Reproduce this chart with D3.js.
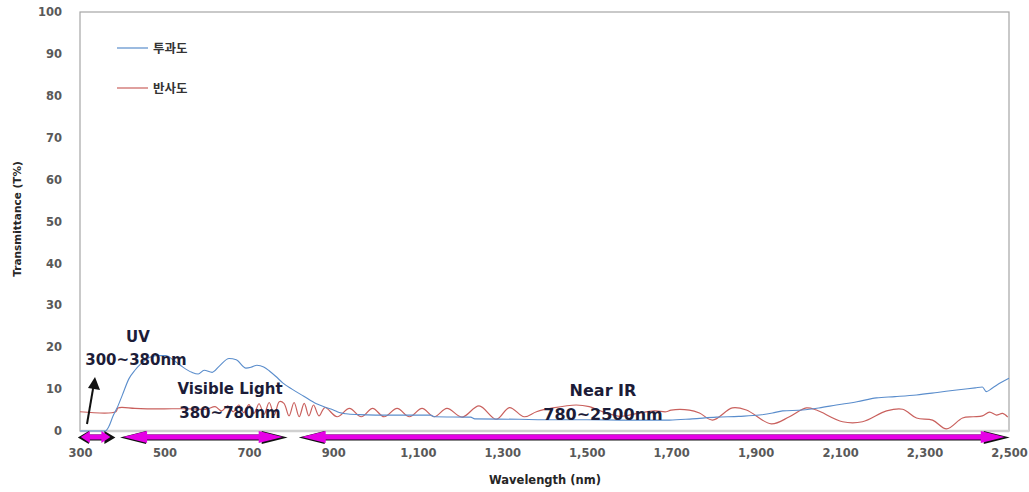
<!DOCTYPE html>
<html>
<head>
<meta charset="utf-8">
<script src="https://cdn.jsdelivr.net/npm/d3@7"></script>
<style>
  body { margin: 0; background: #fff; }
  svg { display: block; }
  .tick text { font-family: "DejaVu Sans", sans-serif; font-weight: bold; fill: #595959; }
  .note { font-family: "DejaVu Sans", sans-serif; font-weight: bold; fill: #1c1c38; }
</style>
</head>
<body>
<svg width="1029" height="492"></svg>
<script>
// Transmittance (투과도) - wavelength / value pairs
const transWl  = [300, 360, 368, 378, 390, 400, 416, 430, 444, 463, 480, 504, 520, 540, 565, 580, 594, 613, 630, 653, 670, 693, 705, 719, 735, 750, 764, 780, 802, 830, 860, 883, 900, 914, 930, 960, 1000, 1130, 1140, 1225, 1235, 1340, 1400, 1500, 1600, 1696, 1750, 1807, 1860, 1909, 1940, 1964, 2011, 2050, 2091, 2140, 2186, 2230, 2281, 2330, 2376, 2420, 2437, 2446, 2460, 2480, 2500];
const transVal = [0, 0, 1, 3.5, 6, 8.5, 12.5, 14.5, 16, 17.5, 18, 18, 17, 15.5, 14, 13.6, 14.5, 14, 15.5, 17.3, 17, 15, 15.2, 15.7, 15.3, 14.2, 13, 11.5, 10, 8.3, 6.5, 5.6, 5, 4.4, 4.1, 3.9, 3.8, 3.8, 3.4, 3.3, 2.9, 2.8, 2.7, 2.7, 2.6, 2.6, 2.9, 3.3, 3.5, 3.8, 4.3, 4.8, 5.0, 5.5, 6.2, 7.0, 7.9, 8.2, 8.6, 9.2, 9.8, 10.3, 10.5, 9.4, 10.2, 11.5, 12.6];

// Reflectance (반사도)
const reflWl  = [300, 385, 390, 430, 470, 500, 560, 600, 620, 635, 650, 663, 676, 688, 700, 712, 724, 736, 748, 760, 772, 783, 795, 807, 819, 831, 842, 853, 866, 880, 909, 938, 966, 993, 1020, 1051, 1080, 1110, 1139, 1169, 1205, 1245, 1286, 1317, 1352, 1381, 1420, 1475, 1506, 1540, 1580, 1620, 1660, 1688, 1700, 1743, 1767, 1798, 1845, 1878, 1937, 1980, 2020, 2044, 2106, 2153, 2210, 2248, 2281, 2319, 2352, 2390, 2415, 2437, 2454, 2470, 2485, 2497];
const reflVal = [4.6, 4.6, 5.5, 5.4, 5.3, 5.3, 5.3, 5.2, 5.8, 4.8, 6.0, 4.6, 6.2, 4.4, 6.3, 4.2, 6.5, 4.0, 6.8, 3.8, 7.0, 6.6, 3.6, 6.8, 3.4, 6.6, 3.6, 6.2, 3.6, 5.6, 3.4, 5.4, 3.4, 5.4, 3.4, 5.4, 3.4, 5.4, 3.4, 5.4, 3.3, 6.0, 2.8, 5.6, 3.4, 4.6, 5.5, 6.2, 5.8, 4.5, 3.5, 4.2, 4.8, 4.6, 5.0, 5.0, 4.3, 2.6, 5.5, 5.0, 1.7, 3.4, 5.5, 5.0, 2.2, 2.2, 4.8, 5.2, 3.1, 2.6, 0.5, 3.1, 3.4, 3.6, 4.5, 3.8, 4.2, 3.3];

const xTicks = [300, 500, 700, 900, 1100, 1300, 1500, 1700, 1900, 2100, 2300, 2500];
const yTicks = [0, 10, 20, 30, 40, 50, 60, 70, 80, 90, 100];

const seriesNames = ["투과도", "반사도"];
const seriesColors = ["#5a8dcc", "#c9605d"];

// spectral ranges shown with the magenta arrows (nm)
const rangeFrom = [302, 402, 825];
const rangeTo   = [372, 780, 2490];

const svg = d3.select("svg");
const pLeft = 80, pRight = 1009, pTop = 12, pBottom = 431;

const x = d3.scaleLinear().domain([300, 2500]).range([pLeft, pRight]);
const y = d3.scaleLinear().domain([0, 100]).range([pBottom, pTop]);

// plot border
svg.append("rect")
  .attr("x", pLeft).attr("y", pTop)
  .attr("width", pRight - pLeft).attr("height", pBottom - pTop)
  .attr("fill", "none").attr("stroke", "#a6a6a6").attr("stroke-width", 1.2);
svg.append("line")
  .attr("x1", pLeft).attr("x2", pRight).attr("y1", pBottom).attr("y2", pBottom)
  .attr("stroke", "#d0d0d0").attr("stroke-width", 2.5);

// axes (labels only, no tick marks)
const yAxis = svg.append("g")
  .attr("transform", `translate(${pLeft},0)`)
  .call(d3.axisLeft(y).tickValues(yTicks).tickSize(0).tickPadding(18));
yAxis.select(".domain").remove();
yAxis.selectAll("text").style("font-size", "11.5px");

const xAxis = svg.append("g")
  .attr("transform", `translate(0,${pBottom})`)
  .call(d3.axisBottom(x).tickValues(xTicks).tickFormat(d3.format(",")).tickSize(0).tickPadding(18));
xAxis.select(".domain").remove();
xAxis.selectAll("text").style("font-size", "11.5px");

svg.append("text")
  .attr("x", 545).attr("y", 484)
  .attr("text-anchor", "middle")
  .style("font-family", "DejaVu Sans").style("font-weight", "bold")
  .style("font-size", "11.5px").style("fill", "#262626")
  .text("Wavelength (nm)");

svg.append("text")
  .attr("transform", "translate(21,219) rotate(-90)")
  .attr("text-anchor", "middle")
  .style("font-family", "DejaVu Sans").style("font-weight", "bold")
  .style("font-size", "10.5px").style("fill", "#262626")
  .text("Transmittance (T%)");

// lines
const line = d3.line().x(d => x(d[0])).y(d => y(d[1])).curve(d3.curveMonotoneX);
const smooth = d3.line().x(d => x(d[0])).y(d => y(d[1])).curve(d3.curveCatmullRom.alpha(0.5));

svg.append("path")
  .datum(reflWl.map((w, i) => [w, reflVal[i]]))
  .attr("d", smooth)
  .attr("fill", "none").attr("stroke", seriesColors[1]).attr("stroke-width", 1.2);

svg.append("path")
  .datum(transWl.map((w, i) => [w, transVal[i]]))
  .attr("d", line)
  .attr("fill", "none").attr("stroke", seriesColors[0]).attr("stroke-width", 1.1);

// legend
seriesNames.forEach((name, i) => {
  const ly = 48 + i * 40;
  svg.append("line")
    .attr("x1", 117).attr("x2", 148).attr("y1", ly).attr("y2", ly)
    .attr("stroke", seriesColors[i]).attr("stroke-width", 1.2);
  svg.append("text")
    .attr("x", 153).attr("y", ly).attr("dy", "0.36em")
    .style("font-family", "Noto Sans CJK KR").style("font-weight", "bold")
    .style("font-size", "12.5px").style("fill", "#333")
    .text(name);
});

// magenta range arrows
function arrowPath(x1, x2, cy, head, shaft, hh) {
  return `M${x1},${cy} L${x1 + head},${cy - hh} L${x1 + head},${cy - shaft} L${x2 - head},${cy - shaft}` +
    ` L${x2 - head},${cy - hh} L${x2},${cy} L${x2 - head},${cy + hh} L${x2 - head},${cy + shaft}` +
    ` L${x1 + head},${cy + shaft} L${x1 + head},${cy + hh} Z`;
}
rangeFrom.forEach((f, i) => {
  const x1 = x(f), x2 = x(rangeTo[i]);
  const head = (x2 - x1) < 60 ? 9 : 24;
  svg.append("path")
    .attr("d", arrowPath(x1 - 3, x2 + 5, 437.5, head + 2, 3, 6.5))
    .attr("fill", "#111");
  svg.append("path")
    .attr("d", arrowPath(x1, x2, 437, head, 2.5, 6))
    .attr("fill", "#e600e6");
});

// black pointer for UV
svg.append("line")
  .attr("x1", 87).attr("y1", 424).attr("x2", 93.5).attr("y2", 386)
  .attr("stroke", "#111").attr("stroke-width", 2);
svg.append("path")
  .attr("d", "M95,377 L100,390 L88,388 Z")
  .attr("fill", "#111");

// range labels
const notes = [
  ["UV", 138, 342, 15],
  ["300~380nm", 136, 365, 15],
  ["Visible Light", 230, 394, 15],
  ["380~780nm", 230, 418, 15],
  ["Near IR", 603, 396, 16],
  ["780~2500nm", 603, 420, 16]
];
notes.forEach(n => {
  svg.append("text").attr("class", "note")
    .attr("x", n[1]).attr("y", n[2])
    .attr("text-anchor", "middle")
    .style("font-size", n[3] + "px")
    .text(n[0]);
});
</script>
</body>
</html>
